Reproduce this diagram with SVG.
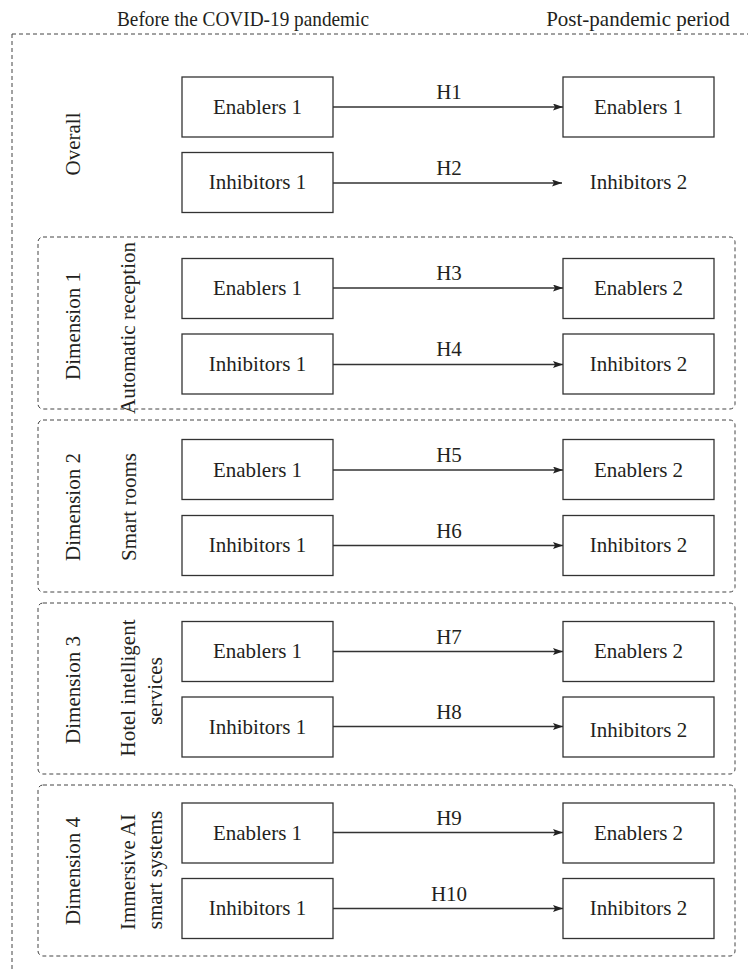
<svg xmlns="http://www.w3.org/2000/svg" width="748" height="970" viewBox="0 0 748 970" font-family="'Liberation Serif', 'DejaVu Serif', 'Times New Roman', serif">
<style>
text{font-family:'Liberation Serif','DejaVu Serif','Times New Roman',serif;font-size:21px;fill:#231f20}
.c{text-anchor:middle}
.box{fill:#fff;stroke:#333;stroke-width:1.3}
.dash{fill:none;stroke:#444;stroke-width:1;stroke-dasharray:4 3}
.arr{stroke:#333;stroke-width:1.3;fill:none;marker-end:url(#ah)}
</style>
<defs>
<marker id="ah" markerUnits="userSpaceOnUse" markerWidth="12" markerHeight="10" refX="10" refY="3.5" orient="auto">
<path d="M0,0 L10,3.5 L0,7 L2,3.5 Z" fill="#222"/>
</marker>
</defs>
<rect width="748" height="970" fill="#fff"/>
<g id="headers">
<text x="117" y="26" textLength="252" lengthAdjust="spacingAndGlyphs">Before the COVID-19 pandemic</text>
<text x="638" y="26" class="c">Post-pandemic period</text>
</g>
<g id="frames">
<path class="dash" d="M12,34 H748 M12,34 V970"/>
<rect class="dash" x="38" y="237" width="697" height="172" rx="5"/>
<rect class="dash" x="38" y="420" width="697" height="172" rx="5"/>
<rect class="dash" x="38" y="603" width="697" height="171" rx="5"/>
<rect class="dash" x="38" y="785" width="697" height="171" rx="5"/>
</g>
<g id="side-labels">
<text class="c" transform="translate(80,144) rotate(-90)">Overall</text>
<text class="c" transform="translate(80,326) rotate(-90)">Dimension 1</text>
<text class="c" transform="translate(135,328) rotate(-90)">Automatic reception</text>
<text class="c" transform="translate(80,507) rotate(-90)">Dimension 2</text>
<text class="c" transform="translate(136,507) rotate(-90)">Smart rooms</text>
<text class="c" transform="translate(80,690) rotate(-90)">Dimension 3</text>
<text class="c" transform="translate(135,688) rotate(-90)">Hotel intelligent</text>
<text class="c" transform="translate(162,691) rotate(-90)">services</text>
<text class="c" transform="translate(80,871) rotate(-90)">Dimension 4</text>
<text class="c" transform="translate(135,872) rotate(-90)">Immersive AI</text>
<text class="c" transform="translate(162,870) rotate(-90)">smart systems</text>
</g>
<g id="connectors">
<line class="arr" x1="333" y1="107" x2="563" y2="107"/>
<line class="arr" x1="333" y1="183" x2="562" y2="183"/>
<line class="arr" x1="333" y1="288" x2="563" y2="288"/>
<line class="arr" x1="333" y1="364.5" x2="563" y2="364.5"/>
<line class="arr" x1="333" y1="470" x2="563" y2="470"/>
<line class="arr" x1="333" y1="545.5" x2="563" y2="545.5"/>
<line class="arr" x1="333" y1="651.5" x2="563" y2="651.5"/>
<line class="arr" x1="333" y1="726.5" x2="563" y2="726.5"/>
<line class="arr" x1="333" y1="832.5" x2="563" y2="832.5"/>
<line class="arr" x1="333" y1="908.5" x2="563" y2="908.5"/>
<text class="c" x="449" y="99">H1</text>
<text class="c" x="449" y="174.5">H2</text>
<text class="c" x="449" y="280">H3</text>
<text class="c" x="449" y="356">H4</text>
<text class="c" x="449" y="462">H5</text>
<text class="c" x="449" y="537.5">H6</text>
<text class="c" x="449" y="643.5">H7</text>
<text class="c" x="449" y="718.5">H8</text>
<text class="c" x="449" y="824.5">H9</text>
<text class="c" x="449" y="900.5">H10</text>
</g>
<g id="overall-e1"><rect class="box" x="182" y="77" width="151" height="60"/><text class="c" x="257.5" y="113.5">Enablers 1</text></g>
<g id="overall-i1"><rect class="box" x="182" y="152.5" width="151" height="60"/><text class="c" x="257.5" y="189">Inhibitors 1</text></g>
<g id="overall-e2"><rect class="box" x="563" y="77" width="151" height="60"/><text class="c" x="638.5" y="113.5">Enablers 1</text></g>
<g id="overall-i2"><text class="c" x="638.5" y="189">Inhibitors 2</text></g>
<g id="d1-e1"><rect class="box" x="182" y="258.5" width="151" height="60"/><text class="c" x="257.5" y="295">Enablers 1</text></g>
<g id="d1-i1"><rect class="box" x="182" y="334" width="151" height="60"/><text class="c" x="257.5" y="371">Inhibitors 1</text></g>
<g id="d1-e2"><rect class="box" x="563" y="258.5" width="151" height="60"/><text class="c" x="638.5" y="295">Enablers 2</text></g>
<g id="d1-i2"><rect class="box" x="563" y="334" width="151" height="60"/><text class="c" x="638.5" y="371">Inhibitors 2</text></g>
<g id="d2-e1"><rect class="box" x="182" y="439.5" width="151" height="60"/><text class="c" x="257.5" y="476.5">Enablers 1</text></g>
<g id="d2-i1"><rect class="box" x="182" y="515.5" width="151" height="60"/><text class="c" x="257.5" y="552">Inhibitors 1</text></g>
<g id="d2-e2"><rect class="box" x="563" y="439.5" width="151" height="60"/><text class="c" x="638.5" y="476.5">Enablers 2</text></g>
<g id="d2-i2"><rect class="box" x="563" y="515.5" width="151" height="60"/><text class="c" x="638.5" y="552">Inhibitors 2</text></g>
<g id="d3-e1"><rect class="box" x="182" y="621.5" width="151" height="60"/><text class="c" x="257.5" y="658">Enablers 1</text></g>
<g id="d3-i1"><rect class="box" x="182" y="697" width="151" height="60"/><text class="c" x="257.5" y="733.5">Inhibitors 1</text></g>
<g id="d3-e2"><rect class="box" x="563" y="621.5" width="151" height="60"/><text class="c" x="638.5" y="658">Enablers 2</text></g>
<g id="d3-i2"><rect class="box" x="563" y="697" width="151" height="60"/><text class="c" x="638.5" y="737">Inhibitors 2</text></g>
<g id="d4-e1"><rect class="box" x="182" y="803" width="151" height="60"/><text class="c" x="257.5" y="839.5">Enablers 1</text></g>
<g id="d4-i1"><rect class="box" x="182" y="878.5" width="151" height="60"/><text class="c" x="257.5" y="915">Inhibitors 1</text></g>
<g id="d4-e2"><rect class="box" x="563" y="803" width="151" height="60"/><text class="c" x="638.5" y="839.5">Enablers 2</text></g>
<g id="d4-i2"><rect class="box" x="563" y="878.5" width="151" height="60"/><text class="c" x="638.5" y="915">Inhibitors 2</text></g>
</svg>
